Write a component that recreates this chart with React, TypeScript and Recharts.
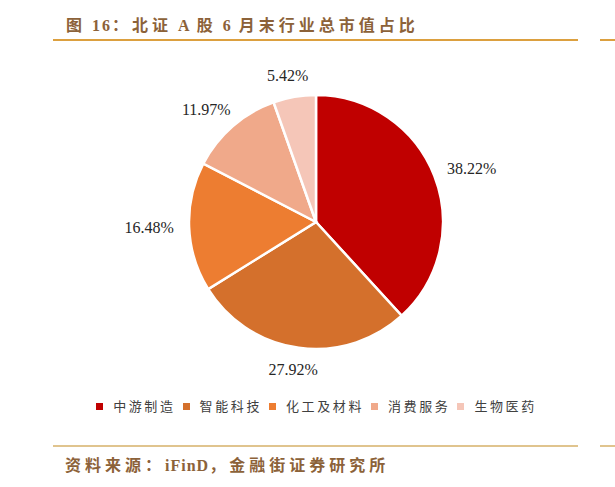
import { PieChart, Pie, Cell } from 'recharts';

const categories = ['中游制造', '智能科技', '化工及材料', '消费服务', '生物医药'];
const shares = [38.22, 27.92, 16.48, 11.97, 5.42];
const colors = ['#C00000', '#D4702C', '#ED7D31', '#F0A98A', '#F5C6B8'];

const data = categories.map((name, i) => ({ name, value: shares[i] }));

const RAD = Math.PI / 180;
const BROWN = '#8C6239';
const CJK = "'Noto Sans CJK SC', sans-serif";
const SERIF = "'Liberation Serif', 'Times New Roman', serif";

function renderLabel(props: any) {
  const { cx, cy, midAngle, outerRadius, value } = props;
  const cos = Math.cos(-midAngle * RAD);
  const sin = Math.sin(-midAngle * RAD);
  const r = outerRadius + 15;
  // 라벨 박스 가장자리가 원 밖에 닿도록 보정
  const x = cx + r * cos + 25 * cos;
  const y = cy + r * sin + 7 * sin;
  return (
    <text
      x={x}
      y={y}
      fill="#262626"
      fontSize={16}
      fontFamily={SERIF}
      textAnchor="middle"
      dominantBaseline="central"
    >
      {`${value.toFixed(2)}%`}
    </text>
  );
}

function Lat({ children, ls = 2 }: { children: string; ls?: number }) {
  return <span style={{ fontFamily: SERIF, letterSpacing: ls, whiteSpace: 'pre' }}>{children}</span>;
}

export default function App() {
  const textStyle = {
    position: 'absolute' as const,
    fontFamily: CJK,
    fontWeight: 700,
    color: BROWN,
    whiteSpace: 'nowrap' as const,
  };
  return (
    <div
      style={{
        position: 'absolute',
        left: 0,
        top: 0,
        width: 615,
        height: 487,
        background: '#fff',
        overflow: 'hidden',
      }}
    >
      <div style={{ ...textStyle, left: 66, top: 13, fontSize: 16, letterSpacing: 4, lineHeight: '22px' }}>
        图<Lat>{' 16'}</Lat>：北证<Lat>{' A '}</Lat>股<Lat>{' 6 '}</Lat>月末行业总市值占比
      </div>
      <div style={{ position: 'absolute', left: 53, top: 39, width: 525, height: 2, background: '#DCA03F' }} />
      <div style={{ position: 'absolute', left: 600, top: 39, width: 15, height: 2, background: '#DCA03F' }} />

      <div style={{ position: 'absolute', left: 0, top: 0 }}>
        <PieChart width={615} height={487} margin={{ top: 0, right: 0, bottom: 0, left: 0 }}>
          <Pie
            data={data}
            dataKey="value"
            nameKey="name"
            cx={316}
            cy={222}
            outerRadius={127}
            startAngle={90}
            endAngle={-270}
            stroke="#fff"
            strokeWidth={2.5}
            label={renderLabel}
            labelLine={false}
            isAnimationActive={false}
          >
            {data.map((d, i) => (
              <Cell key={`cell-${i}`} fill={colors[i]} />
            ))}
          </Pie>
        </PieChart>
      </div>

      <div
        style={{
          position: 'absolute',
          left: 0,
          top: 396,
          width: 640,
          display: 'flex',
          justifyContent: 'center',
          alignItems: 'center',
          fontFamily: CJK,
          fontSize: 13,
          letterSpacing: 2.6,
          color: '#404040',
          lineHeight: '20px',
        }}
      >
        {categories.map((c, i) => (
          <span key={c} style={{ display: 'flex', alignItems: 'center', marginRight: 7 }}>
            <span
              style={{
                display: 'inline-block',
                width: 7,
                height: 7,
                background: colors[i],
                marginRight: 10,
              }}
            />
            {c}
          </span>
        ))}
      </div>

      <div style={{ position: 'absolute', left: 53, top: 445, width: 525, height: 2, background: '#E0C48E' }} />
      <div style={{ position: 'absolute', left: 600, top: 445, width: 15, height: 2, background: '#E0C48E' }} />
      <div style={{ ...textStyle, left: 65, top: 453, fontSize: 16, letterSpacing: 4, lineHeight: '22px' }}>
        资料来源：<Lat ls={1}>iFinD</Lat>，金融街证券研究所
      </div>
    </div>
  );
}
